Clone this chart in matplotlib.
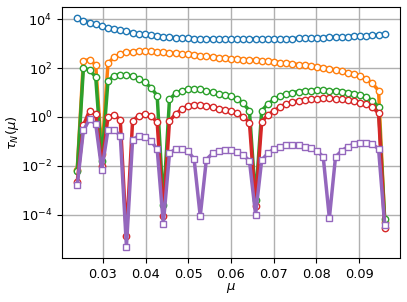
import numpy as np
import matplotlib
matplotlib.use("Agg")
import matplotlib.pyplot as plt

# mu grid (51 evenly spaced samples)
mu = np.linspace(0.024, 0.096, 51)

tau_blue = [1.1e4, 8.9e3, 7.2e3, 6.2e3, 5.2e3, 4.5e3, 4.0e3, 3.6e3, 3.2e3, 2.8e3,
            2.5e3, 2.4e3, 2.2e3, 2.1e3, 1.95e3, 1.86e3, 1.78e3, 1.74e3, 1.7e3, 1.62e3,
            1.58e3, 1.58e3, 1.58e3, 1.58e3, 1.58e3, 1.58e3, 1.58e3, 1.58e3, 1.58e3, 1.58e3,
            1.58e3, 1.58e3, 1.59e3, 1.6e3, 1.62e3, 1.64e3, 1.67e3, 1.7e3, 1.73e3, 1.77e3,
            1.8e3, 1.84e3, 1.88e3, 1.92e3, 1.97e3, 2.02e3, 2.08e3, 2.15e3, 2.22e3, 2.3e3,
            2.4e3]

tau_orange = [7e-3, 200, 224, 135, 0.03, 160, 280, 370, 440, 480,
              500, 510, 500, 470, 450, 425, 400, 390, 370, 350,
              325, 310, 290, 270, 257, 245, 235, 224, 219, 209,
              200, 190, 182, 170, 162, 151, 141, 132, 123, 112,
              102, 93, 85, 78, 66, 56, 47, 36, 24, 12,
              5e-5]

tau_green = [6.3e-3, 100, 85, 43, 0.016, 30, 49, 54, 52, 48,
             36, 26, 16, 7.4, 2.5e-4, 5.2, 9.3, 12, 13.5, 14,
             13.5, 12, 10.2, 8.5, 7.6, 6.9, 5.5, 3.6, 1.8, 4e-4,
             1.8, 3.4, 5.2, 7.2, 8.7, 10, 11, 11.7, 12, 12.3,
             12.3, 12, 11.7, 11, 10, 9.1, 7.9, 6.6, 4.6, 2.6,
             6.5e-5]

tau_red = [2.2e-3, 0.45, 1.8, 1.35, 0.01, 1.0, 1.23, 0.76, 1.3e-5, 0.7,
           1.1, 1.35, 1.12, 0.6, 8.7e-5, 0.69, 1.32, 2.1, 2.8, 3.1,
           3.1, 2.9, 2.5, 2.1, 1.9, 1.74, 1.4, 1.02, 0.59, 2.2e-4,
           0.65, 1.2, 1.8, 2.6, 3.4, 4.0, 4.7, 5.0, 5.2, 5.6,
           5.9, 5.9, 5.6, 5.2, 4.8, 4.3, 3.9, 3.4, 2.6, 1.4,
           2.9e-5]

tau_purple = [1.6e-3, 0.28, 0.8, 0.52, 6.6e-3, 0.3, 0.3, 0.17, 4.9e-6, 0.115,
              0.17, 0.155, 0.105, 0.048, 4.2e-5, 0.032, 0.049, 0.049, 0.04, 0.019,
              8.5e-5, 0.018, 0.032, 0.041, 0.045, 0.045, 0.038, 0.0275, 0.016, 1.0e-4,
              0.0174, 0.032, 0.049, 0.06, 0.071, 0.071, 0.071, 0.06, 0.052, 0.041,
              0.023, 7.1e-5, 0.023, 0.041, 0.06, 0.078, 0.089, 0.089, 0.078, 0.049,
              3.7e-5]

fig, ax = plt.subplots(figsize=(4.07, 3.02), dpi=100)
fig.subplots_adjust(left=0.152, right=0.983, top=0.977, bottom=0.146)

style = dict(mfc='white', ms=4.6, mew=1.0, lw=2.5)
ax.plot(mu, tau_blue, 'o-', color='tab:blue', **style)
ax.plot(mu, tau_orange, 'o-', color='tab:orange', **style)
ax.plot(mu, tau_green, 'o-', color='tab:green', **style)
ax.plot(mu, tau_red, 'o-', color='tab:red', **style)
ax.plot(mu, tau_purple, 's-', color='tab:purple', **style)

ax.set_yscale('log')
ax.set_xticks([0.03, 0.04, 0.05, 0.06, 0.07, 0.08, 0.09])
ax.grid(True, color='#b0b0b0', lw=1.0)
ax.set_axisbelow(True)
ax.tick_params(labelsize=9.3)
ax.set_xlabel(r'$\mu$', fontsize=9.5)
ax.set_ylabel(r'$\tau_N(\mu)$', fontsize=9.5)
ax.yaxis.set_label_coords(-0.12, 0.5)
ax.xaxis.set_label_coords(0.5, -0.092)

fig.savefig('out.png', dpi=100)
